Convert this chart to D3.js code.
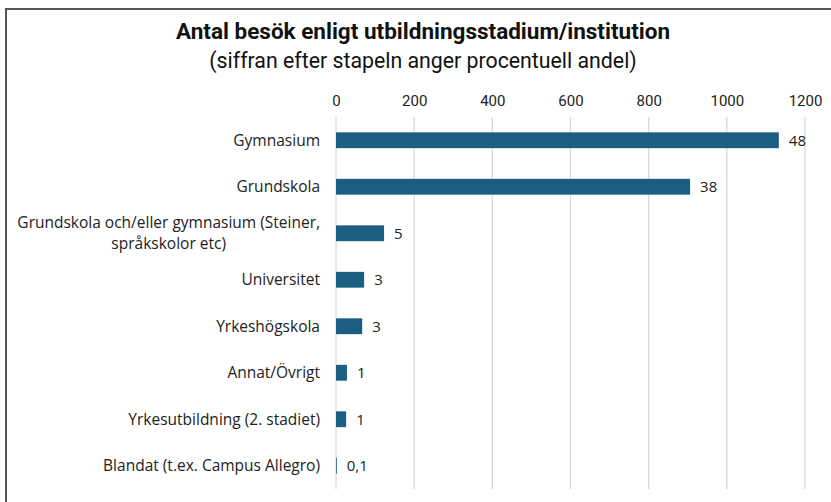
<!DOCTYPE html>
<html>
<head>
<meta charset="utf-8">
<script src="https://cdn.jsdelivr.net/npm/d3@7"></script>
<style>
  body { margin: 0; background: #fff; }
  .cat { font-family: "Open Sans", sans-serif; font-size: 15.5px; fill: #222; }
  .val { font-family: "Open Sans", sans-serif; font-size: 15px; fill: #222; }
  .tick text { font-family: "Roboto", sans-serif; font-size: 15px; fill: #222; }
  .title { font-family: "Roboto", sans-serif; font-weight: bold; font-size: 22.5px; fill: #111; }
  .subtitle { font-family: "Roboto", sans-serif; font-size: 21.3px; fill: #111; }
</style>
</head>
<body>
<script>
// data
var categories = [
  "Gymnasium",
  "Grundskola",
  "Grundskola och/eller gymnasium (Steiner,|språkskolor etc)",
  "Universitet",
  "Yrkeshögskola",
  "Annat/Övrigt",
  "Yrkesutbildning (2. stadiet)",
  "Blandat (t.ex. Campus Allegro)"
];
var visits = [1133, 906, 123, 72, 67, 28, 26, 2];
var shares = ["48", "38", "5", "3", "3", "1", "1", "0,1"];
var ticks  = [0, 200, 400, 600, 800, 1000, 1200];

var width = 831, height = 502;
var svg = d3.select("body").append("svg").attr("width", width).attr("height", height);

// frame
svg.append("path")
  .attr("d", "M6," + (height + 5) + "V9H" + (width + 5))
  .attr("fill", "none").attr("stroke", "#555").attr("stroke-width", 2);

// titles
svg.append("text").attr("class", "title").attr("x", 423).attr("y", 39)
  .attr("text-anchor", "middle").text("Antal besök enligt utbildningsstadium/institution");
svg.append("text").attr("class", "subtitle").attr("x", 423).attr("y", 68)
  .attr("text-anchor", "middle").text("(siffran efter stapeln anger procentuell andel)");

// scales
var x = d3.scaleLinear().domain([0, 1200]).range([336, 805]);
var y = d3.scaleBand().domain(d3.range(categories.length)).range([117, 489]).paddingInner(0.66).paddingOuter(0.33);

// grid
svg.append("g").selectAll("line").data(ticks).join("line")
  .attr("x1", function(d){ return x(d); }).attr("x2", function(d){ return x(d); })
  .attr("y1", 117).attr("y2", 489)
  .attr("stroke", "#d9d9d9").attr("stroke-width", 1.3);

// top axis
var axis = svg.append("g").attr("transform", "translate(0,106)")
  .call(d3.axisTop(x).tickValues(ticks).tickSize(0).tickPadding(0).tickFormat(d3.format("d")));
axis.select(".domain").remove();

// bars
svg.append("g").selectAll("rect").data(visits).join("rect")
  .attr("x", x(0))
  .attr("y", function(d, i){ return y(i); })
  .attr("width", function(d){ return x(d) - x(0); })
  .attr("height", y.bandwidth())
  .attr("fill", "#1a5f82");

// value labels
svg.append("g").selectAll("text").data(visits).join("text")
  .attr("class", "val")
  .attr("x", function(d){ return x(d) + 10; })
  .attr("y", function(d, i){ return y(i) + y.bandwidth() / 2; })
  .attr("dy", "0.35em")
  .text(function(d, i){ return shares[i]; });

// category labels (multi-line ones are centred as a block, right edge at 320)
var cat = svg.append("g").selectAll("text").data(categories).join("text")
  .attr("class", "cat")
  .attr("text-anchor", "end")
  .attr("x", 320)
  .attr("y", function(d, i){ return y(i) + y.bandwidth() / 2; });
cat.each(function(d){
  var lines = d.split("|"), t = d3.select(this);
  var spans = lines.map(function(line, j){
    return t.append("tspan").attr("x", 320)
      .attr("dy", j === 0 ? (0.35 - (lines.length - 1) * 0.68) + "em" : "1.36em")
      .text(line);
  });
  if(lines.length > 1){
    var w = d3.max(spans, function(s){ return s.node().getComputedTextLength(); });
    t.attr("text-anchor", "middle");
    spans.forEach(function(s){ s.attr("x", 320 - w / 2); });
  }
});
</script>
</body>
</html>
